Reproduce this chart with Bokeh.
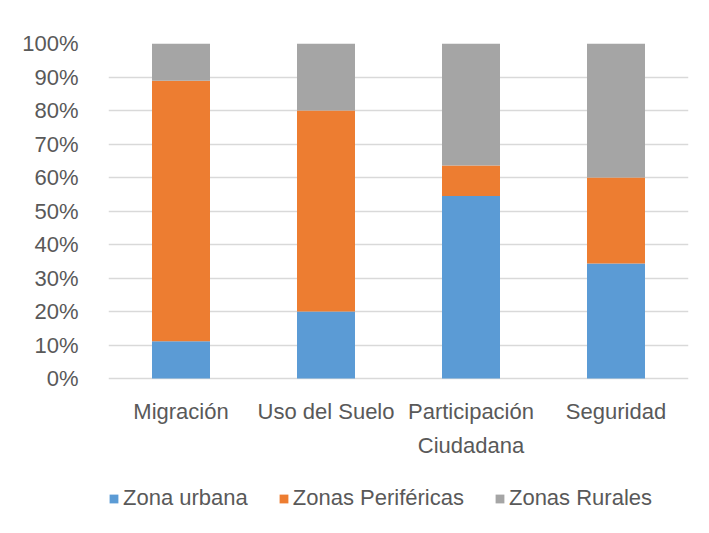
from bokeh.plotting import figure
from bokeh.models import ColumnDataSource, NumeralTickFormatter, Legend, LegendItem, FixedTicker
from bokeh.embed import file_html
from bokeh.resources import INLINE

categories = ["Migración", "Uso del Suelo", "Participación\nCiudadana", "Seguridad"]
series = ["Zona urbana", "Zonas Periféricas", "Zonas Rurales"]
zona_urbana = [0.111, 0.20, 0.545, 0.343]
zonas_perifericas = [0.778, 0.60, 0.091, 0.257]
zonas_rurales = [0.111, 0.20, 0.364, 0.400]
colors = ["#5B9BD5", "#ED7D31", "#A5A5A5"]
y_ticks = [i / 10 for i in range(11)]

FONT = "Liberation Sans"
TXT = "#595959"

source = ColumnDataSource(data={
    "cat": categories,
    "Zona urbana": zona_urbana,
    "Zonas Periféricas": zonas_perifericas,
    "Zonas Rurales": zonas_rurales,
})

# frame spans 43..525 px; data 0..1 occupies the top 335 px
p = figure(x_range=categories, y_range=(-0.4388, 1), width=700, height=530,
           x_axis_location=None, output_backend="svg", toolbar_location=None,
           min_border_left=108, min_border_right=12, min_border_top=43, min_border_bottom=5)

renderers = p.vbar_stack(series, x="cat", width=0.4, source=source,
                         color=colors, line_color=None)

p.outline_line_color = None
p.xgrid.grid_line_color = None
p.ygrid.grid_line_color = "#d9d9d9"
p.ygrid.grid_line_width = 1.5
p.yaxis.ticker = FixedTicker(ticks=y_ticks)
p.yaxis.formatter = NumeralTickFormatter(format="0%")
p.yaxis.major_tick_line_color = None
p.yaxis.minor_tick_line_color = None
p.yaxis.axis_line_color = None
p.yaxis.major_label_text_font = FONT
p.yaxis.major_label_text_font_size = "22px"
p.yaxis.major_label_text_color = TXT
p.yaxis.major_label_standoff = 24

# category labels under the bars
p.text(x=categories, y=[-0.062] * len(categories), text=categories,
       text_align="center", text_baseline="top", text_font_size="22px",
       text_color=TXT, text_line_height=1.35, text_font={"value": FONT})

legend = Legend(items=[LegendItem(label=s, renderers=[r]) for s, r in zip(series, renderers)],
                orientation="horizontal", location=(0, 14))
legend.label_text_font = FONT
legend.label_text_font_size = "22px"
legend.label_text_color = TXT
legend.glyph_width = 11
legend.glyph_height = 11
legend.spacing = 30
legend.label_standoff = 4
legend.border_line_color = None
legend.background_fill_alpha = 0
legend.padding = 0
legend.margin = 0
p.add_layout(legend, "center")

open("out.html", "w").write(file_html(p, INLINE))
